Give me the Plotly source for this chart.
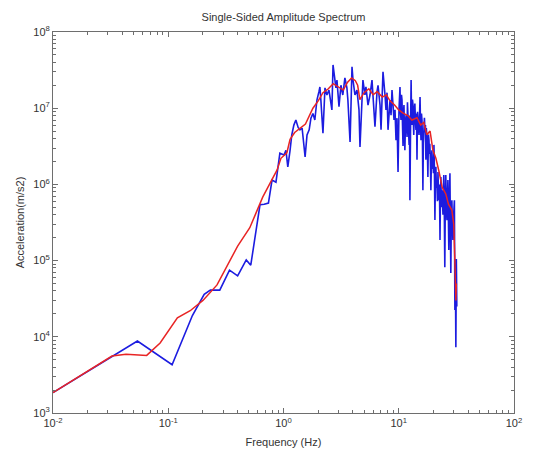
import plotly.graph_objects as go

# Raw single-sided FFT amplitude (blue) and its smoothed envelope (red)
freq_raw = [0.01, 0.0325, 0.054, 0.108, 0.162, 0.205, 0.232, 0.28, 0.34, 0.40,
            0.475, 0.52, 0.575, 0.625, 0.68, 0.74, 0.795, 0.86, 0.93,
            1.01, 1.05, 1.09, 1.14, 1.18, 1.23, 1.28, 1.34, 1.39, 1.45,
            1.51, 1.54, 1.60, 1.67, 1.73, 1.80, 1.87, 1.95, 2.03, 2.07,
            2.11, 2.20, 2.29, 2.38, 2.48, 2.58, 2.63, 2.69, 2.74, 2.85,
            2.91, 3.03, 3.15, 3.27, 3.41, 3.55, 3.62, 3.78, 3.93, 4.01,
            4.17, 4.34, 4.52, 4.61, 4.80, 4.89, 5.09, 5.19, 5.41, 5.63,
            5.86, 5.98, 6.22, 6.48, 6.61, 6.88, 7.02, 7.16, 7.30, 7.60,
            7.75, 7.91, 8.07, 8.40, 8.57, 8.74, 9.10, 9.28, 9.47, 9.66,
            9.86, 10.05,
            10.25, 10.35, 10.46, 10.56, 10.67, 10.78, 10.89, 11.0, 11.1, 11.2,
            11.3, 11.45, 11.6, 11.7, 11.8, 11.9, 12.0, 12.15, 12.3, 12.4,
            12.5, 12.65, 12.8, 12.9, 13.0, 13.15, 13.3, 13.4, 13.5, 13.65,
            13.8, 13.95, 14.1, 14.25, 14.4, 14.55, 14.7, 14.85, 15.0, 15.15,
            15.3, 15.45, 15.6, 15.75, 15.9, 16.05, 16.2, 16.35, 16.5, 16.7,
            16.9, 17.05, 17.2, 17.35, 17.5, 17.7, 17.9, 18.1, 18.3, 18.45,
            18.6, 18.8, 19.0, 19.2, 19.4, 19.6, 19.8, 20.0, 20.2, 20.4,
            20.6, 20.8, 21.0, 21.2, 21.4, 21.65, 21.9, 22.1, 22.3, 22.55,
            22.8, 23.0, 23.2, 23.45, 23.7, 23.95, 24.2, 24.4, 24.6, 24.85,
            25.1, 25.35, 25.6, 25.9, 26.2, 26.45, 26.7, 26.95, 27.2, 27.5,
            27.8, 28.05, 28.3, 28.6, 28.9, 29.2, 29.5, 29.8, 30.1, 30.4,
            30.7, 31.0, 31.3, 31.6, 31.9]

amp_raw = [1.85e3, 5.6e3, 8.8e3, 4.3e3, 1.9e4, 3.6e4, 4.1e4, 4.1e4, 7.5e4, 6.3e4,
           1.02e5, 8.7e4, 2.4e5, 5.4e5, 5.5e5, 5.7e5, 1.14e6, 1.07e6, 2.57e6,
           2.43e6, 2.8e6, 1.7e6, 2.8e6, 4.45e6, 6.0e6, 7.0e6, 5.6e6, 5.2e6, 5.5e6,
           3.3e6, 2.3e6, 4.45e6, 5.2e6, 7.4e6, 8.5e6, 7.0e6, 1.28e7, 1.65e7, 1.9e7,
           1.28e7, 4.7e6, 1.85e7, 1.49e7, 1.73e7, 1.1e7, 9.5e6, 3.7e7, 3.0e7, 1.85e7,
           2.34e7, 1.05e7, 2.0e7, 1.49e7, 2.5e7, 1.85e7, 1.28e7, 3.6e6, 3.5e7, 2.34e7,
           1.49e7, 1.73e7, 9.5e6, 3.1e6, 1.28e7, 2.34e7, 1.49e7, 1.9e7, 1.1e7, 1.49e7,
           2.34e7, 1.28e7, 5.7e6, 1.65e7, 2.0e7, 1.1e7, 5.2e6, 1.28e7, 3.0e7, 1.49e7,
           9.5e6, 1.6e7, 5.2e6, 1.28e7, 8.1e6, 1.73e7, 7.0e6, 9.5e6, 3.8e6, 7.4e6,
           1.45e6, 9.5e6,
           1.9e7, 9.0e6, 7.0e6, 1.5e7, 1.28e7, 6.0e6, 3.2e6, 9.0e6, 1.1e7, 5.0e6,
           2.8e6, 7.0e6, 8.1e6, 6.0e6, 4.2e6, 1.2e7, 9.5e6, 6.0e6, 3.3e6, 8.0e6,
           6.2e5, 5.0e6, 2.34e7, 9.0e6, 6.0e6, 1.3e7, 1.1e7, 6.5e6, 4.45e6, 9.0e6,
           1.15e7, 7.0e6, 5.2e6, 8.5e6, 2.1e6, 9.0e6, 7.4e6, 5.0e6, 4.45e6, 8.0e6,
           1.4e7, 6.0e6, 3.8e6, 8.5e6, 7.0e6, 4.0e6, 8.4e5, 3.5e6, 5.2e6, 7.5e6,
           4.8e6, 6.0e6, 2.1e6, 5.5e6, 4.45e6, 3.0e6, 1.25e6, 4.5e6, 3.8e6, 2.5e6,
           3.4e6, 2.2e6, 8.4e5, 2.0e6, 2.8e6, 1.6e6, 2.1e6, 1.4e6, 3.3e6, 1.5e6,
           3.4e5, 1.2e6, 1.7e6, 9.0e5, 1.14e6, 6.0e5, 1.45e6, 8.0e5, 6.2e5, 1.0e6,
           1.86e5, 7.0e5, 1.25e6, 5.0e5, 8.4e5, 6.0e5, 4.0e5, 9.0e5, 1.33e6, 4.5e5,
           8.2e4, 6.0e5, 1.33e6, 5.0e5, 3.4e5, 7.0e5, 1.14e6, 4.0e5, 1.38e5, 6.0e5,
           1.4e6, 3.0e5, 6.9e4, 4.0e5, 6.2e5, 3.0e5, 1.86e5, 3.5e5, 4.6e5, 6.2e5,
           2.24e4, 8.2e4, 7.3e3, 1.05e5, 2.5e4]

freq_smooth = [0.01, 0.0325, 0.043, 0.065, 0.085, 0.12, 0.155, 0.2, 0.265, 0.33,
               0.40, 0.51, 0.66, 0.88, 0.95, 1.07, 1.14, 1.25, 1.39, 1.55,
               1.8, 2.0, 2.2, 2.45, 2.7, 3.0, 3.3, 3.6, 3.9, 4.2,
               4.4, 4.6, 5.0, 5.5, 6.0, 6.5, 7.2, 7.8, 8.4, 9.2,
               10.0, 10.9, 12.0, 13.0, 14.4, 15.5, 16.5, 17.5, 18.7, 19.8,
               21.0, 22.3, 23.8, 25.6, 27.0, 28.9, 30.0, 30.8, 31.3, 31.6]

amp_smooth = [1.85e3, 5.6e3, 5.9e3, 5.7e3, 8.3e3, 1.77e4, 2.2e4, 3.0e4, 4.8e4, 9.0e4,
              1.55e5, 2.7e5, 6.8e5, 1.55e6, 2.2e6, 2.6e6, 3.9e6, 4.8e6, 5.5e6, 6.2e6,
              1.0e7, 1.25e7, 1.6e7, 1.8e7, 2.1e7, 1.9e7, 1.73e7, 2.2e7, 2.5e7, 2.3e7,
              2.0e7, 1.3e7, 1.6e7, 1.8e7, 1.5e7, 1.65e7, 1.4e7, 1.5e7, 1.25e7, 1.1e7,
              9.5e6, 8.6e6, 8.0e6, 7.0e6, 7.5e6, 6.0e6, 6.5e6, 4.5e6, 5.0e6, 2.8e6,
              2.2e6, 1.5e6, 9.2e5, 7.5e5, 5.5e5, 4.6e5, 3.0e5, 8.0e4, 3.0e4, 5.0e4]

x_decades = [0.01, 0.1, 1, 10, 100]
x_labels = ["10<sup>-2</sup>", "10<sup>-1</sup>", "10<sup>0</sup>", "10<sup>1</sup>", "10<sup>2</sup>"]
y_decades = [1e3, 1e4, 1e5, 1e6, 1e7, 1e8]
y_labels = ["10<sup>3</sup>", "10<sup>4</sup>", "10<sup>5</sup>", "10<sup>6</sup>", "10<sup>7</sup>", "10<sup>8</sup>"]

x_minor = [k * 10.0 ** e for e in range(-2, 2) for k in range(2, 10)]
y_minor = [k * 10.0 ** e for e in range(3, 8) for k in range(2, 10)]

FONT = "Liberation Sans, Arial, sans-serif"

fig = go.Figure()
fig.add_trace(go.Scatter(x=freq_raw, y=amp_raw, mode="lines",
                         line=dict(color="#1c1ce0", width=1.6), showlegend=False))
fig.add_trace(go.Scatter(x=freq_smooth, y=amp_smooth, mode="lines",
                         line=dict(color="#e82424", width=1.5), showlegend=False))

axis_style = dict(
    type="log", showgrid=False, zeroline=False,
    showline=True, linecolor="#6e6e6e", linewidth=1, mirror="ticks",
    ticks="inside", ticklen=5, tickcolor="#6e6e6e",
    tickfont=dict(family=FONT, size=11, color="#333333"),
)

fig.update_xaxes(**axis_style, range=[-2, 2], tickmode="array",
                 tickvals=x_decades, ticktext=x_labels,
                 minor=dict(tickmode="array", tickvals=x_minor, ticks="inside",
                            ticklen=3, tickcolor="#6e6e6e", showgrid=False),
                 title=dict(text="Frequency (Hz)", standoff=10,
                            font=dict(family=FONT, size=11, color="#333333")))
fig.update_yaxes(**axis_style, range=[3, 8], tickmode="array",
                 tickvals=y_decades, ticktext=y_labels,
                 minor=dict(tickmode="array", tickvals=y_minor, ticks="inside",
                            ticklen=3, tickcolor="#6e6e6e", showgrid=False),
                 title=dict(text="Acceleration(m/s2)", standoff=6,
                            font=dict(family=FONT, size=11, color="#333333")))

fig.update_layout(
    width=539, height=461,
    margin=dict(l=53, r=25, t=32, b=48),
    paper_bgcolor="white", plot_bgcolor="white",
    title=dict(text="Single-Sided Amplitude Spectrum", x=0.5, xref="paper",
               y=1 - 17 / 461, yref="container", yanchor="middle", xanchor="center",
               font=dict(family=FONT, size=11, color="#333333")),
)

fig.write_html("out.html")
